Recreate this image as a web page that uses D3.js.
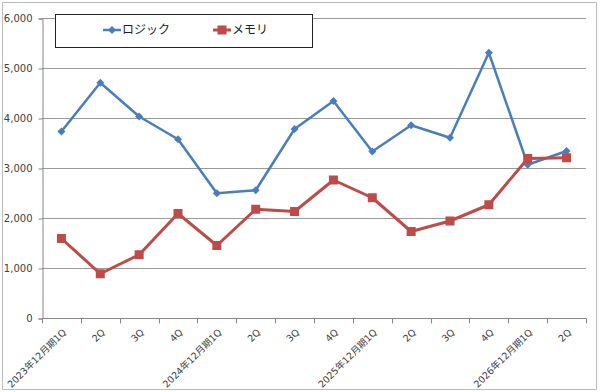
<!DOCTYPE html>
<html><head><meta charset="utf-8">
<script src="https://cdn.jsdelivr.net/npm/d3@7"></script>
<style>
html,body{margin:0;padding:0;background:#fff;}
svg{display:block;}
</style></head>
<body>
<svg id="chart" width="600" height="392"></svg>
<script>
const categories = ["2023年12月期1Q","2Q","3Q","4Q","2024年12月期1Q","2Q","3Q","4Q","2025年12月期1Q","2Q","3Q","4Q","2026年12月期1Q","2Q"];
const logicValues = [3730, 4705, 4030, 3575, 2495, 2555, 3780, 4340, 3330, 3855, 3605, 5305, 3065, 3340];
const memoryValues = [1590, 885, 1265, 2090, 1450, 2175, 2130, 2760, 2405, 1730, 1940, 2265, 3190, 3205];
const yTicks = [0, 1000, 2000, 3000, 4000, 5000, 6000];
const seriesNames = ["ロジック", "メモリ"];

(function(){
const svg = d3.select("#chart");
const pL = 42, pR = 586, pT = 18, pB = 318;
const font = "'DejaVu Sans','Noto Sans CJK JP',sans-serif";

// outer border
svg.append("rect").attr("x", 2.5).attr("y", 2.5).attr("width", 594).attr("height", 387)
  .attr("fill", "#fff").attr("stroke", "#bcbcbc").attr("stroke-width", 1);

const x = d3.scaleBand().domain(categories.map((d,i)=>i)).range([pL, pR]).padding(0);
const y = d3.scaleLinear().domain([0, 6000]).range([pB, pT]);

// gridlines
svg.append("g").selectAll("line").data(yTicks.filter(d=>d>0)).join("line")
  .attr("x1", pL).attr("x2", pR)
  .attr("y1", d=>Math.round(y(d))+0.5).attr("y2", d=>Math.round(y(d))+0.5)
  .attr("stroke", "#9a9a9a").attr("stroke-width", 1);

// y axis
const yAxis = d3.axisLeft(y).tickValues(yTicks).tickSize(4).tickPadding(6)
  .tickFormat(d3.format(","));
const gy = svg.append("g").attr("transform", `translate(${pL+0.5},0.5)`).call(yAxis);
gy.select(".domain").attr("stroke", "#868686");
gy.selectAll(".tick line").attr("stroke", "#868686");
gy.selectAll(".tick text").attr("font-family", font).attr("font-size", 10).attr("fill", "#404040");

// x axis
const gx = svg.append("g").attr("transform", `translate(0,${pB+0.5})`);
gx.append("line").attr("x1", pL).attr("x2", pR).attr("y1", 0).attr("y2", 0).attr("stroke", "#868686");
const bounds = d3.range(categories.length+1).map(i => pL + i*x.bandwidth());
gx.selectAll("line.tk").data(bounds).join("line").attr("class","tk")
  .attr("x1", d=>Math.round(d)+0.5).attr("x2", d=>Math.round(d)+0.5).attr("y1", 0).attr("y2", 5)
  .attr("stroke", "#868686");
gx.selectAll("text").data(categories).join("text")
  .attr("transform", (d,i)=>`translate(${x(i)+x.bandwidth()/2+3},${12}) rotate(-45)`)
  .attr("text-anchor", "end").attr("dy", "0.35em")
  .attr("font-family", font).attr("font-size", 9.5).attr("fill", "#404040")
  .text(d=>d);

const cx = i => x(i) + x.bandwidth()/2;
const line = d3.line().x((d,i)=>cx(i)).y(d=>y(d));

const blue = "#4A7EBB", red = "#BE4B48";
const diamond = "M0,-4L4,0L0,4L-4,0Z";

// logic series
svg.append("path").datum(logicValues).attr("d", line)
  .attr("fill", "none").attr("stroke", blue).attr("stroke-width", 2.5).attr("stroke-linejoin","round");
svg.append("g").selectAll("path").data(logicValues).join("path")
  .attr("d", diamond)
  .attr("transform", (d,i)=>`translate(${cx(i)},${y(d)})`)
  .attr("fill", blue);

// memory series
svg.append("path").datum(memoryValues).attr("d", line)
  .attr("fill", "none").attr("stroke", red).attr("stroke-width", 3).attr("stroke-linejoin","round");
svg.append("g").selectAll("rect").data(memoryValues).join("rect")
  .attr("x", (d,i)=>cx(i)-4.5).attr("y", d=>y(d)-4.5).attr("width", 9).attr("height", 9)
  .attr("fill", red);

// legend
const lg = svg.append("g");
lg.append("rect").attr("x", 55.5).attr("y", 14.5).attr("width", 257).attr("height", 33)
  .attr("fill", "#fff").attr("stroke", "#222").attr("stroke-width", 1);
const items = [{name: seriesNames[0], color: blue, x0: 103, mark: "d"}, {name: seriesNames[1], color: red, x0: 213, mark: "s"}];
items.forEach(it => {
  const ly = 30;
  lg.append("line").attr("x1", it.x0).attr("x2", it.x0+18).attr("y1", ly).attr("y2", ly)
    .attr("stroke", it.color).attr("stroke-width", it.mark==="d"?2.5:3);
  if (it.mark === "d") {
    lg.append("path").attr("d", diamond)
      .attr("transform", `translate(${it.x0+9},${ly})`).attr("fill", it.color);
  } else {
    lg.append("rect").attr("x", it.x0+4.5).attr("y", ly-4.5).attr("width", 9).attr("height", 9).attr("fill", it.color);
  }
  lg.append("text").attr("x", it.x0+19).attr("y", ly).attr("dy", "0.36em")
    .attr("font-family", "'Noto Sans CJK JP',sans-serif").attr("font-size", 12).attr("fill", "#222")
    .text(it.name);
});
})();
</script>
</body></html>
